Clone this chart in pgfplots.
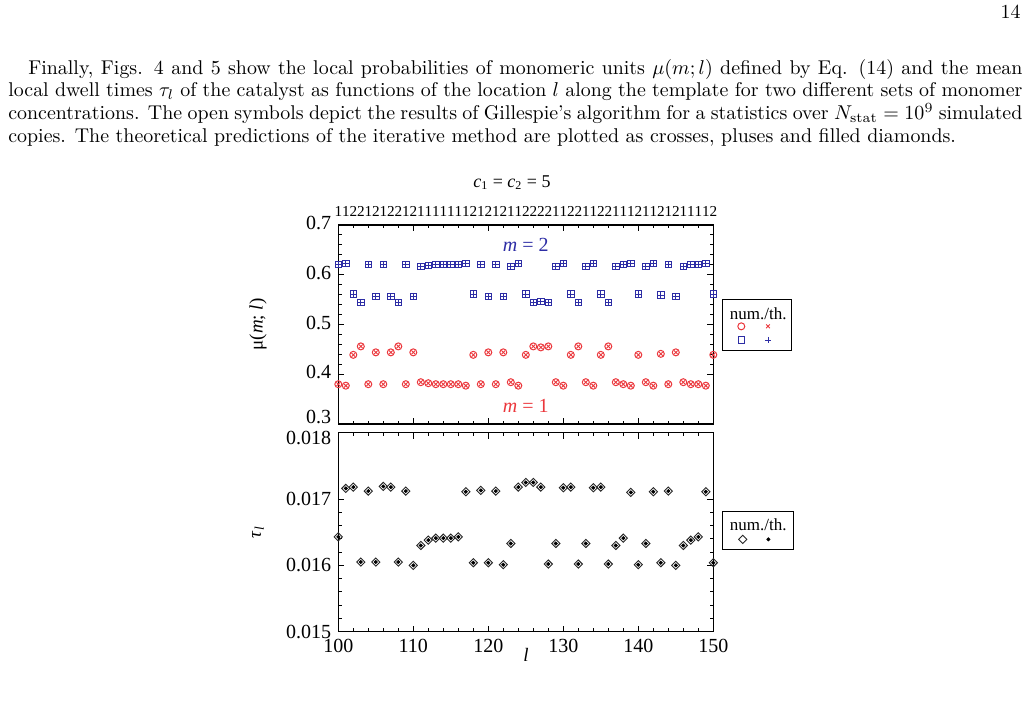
\documentclass[border=0pt]{standalone}
\usepackage{fontspec}
\usepackage{pgfplots}
\pgfplotsset{compat=1.18}
\usepackage{pgfplotstable}
\newfontfamily\figfont{Liberation Serif}
\definecolor{mred}{RGB}{235,55,60}
\definecolor{mblue}{RGB}{45,45,165}

\pgfplotstableread{
l mu1 mu2 tau
100 0.380 0.620 0.01643
101 0.377 0.623 0.01716
102 0.439 0.561 0.01718
103 0.456 0.544 0.01605
104 0.380 0.620 0.01712
105 0.444 0.556 0.01605
106 0.380 0.620 0.01719
107 0.444 0.556 0.01718
108 0.456 0.544 0.01605
109 0.380 0.620 0.01712
110 0.444 0.556 0.01600
111 0.384 0.616 0.01630
112 0.382 0.618 0.01638
113 0.380 0.620 0.01641
114 0.380 0.620 0.01641
115 0.380 0.620 0.01641
116 0.380 0.620 0.01643
117 0.377 0.623 0.01711
118 0.439 0.561 0.01604
119 0.380 0.620 0.01713
120 0.444 0.556 0.01604
121 0.380 0.620 0.01712
122 0.444 0.556 0.01601
123 0.384 0.616 0.01633
124 0.377 0.623 0.01718
125 0.439 0.561 0.01725
126 0.456 0.544 0.01725
127 0.454 0.546 0.01718
128 0.456 0.544 0.01602
129 0.384 0.616 0.01633
130 0.377 0.623 0.01717
131 0.439 0.561 0.01718
132 0.456 0.544 0.01602
133 0.384 0.616 0.01633
134 0.377 0.623 0.01717
135 0.439 0.561 0.01718
136 0.456 0.544 0.01602
137 0.384 0.616 0.01630
138 0.380 0.620 0.01641
139 0.377 0.623 0.01710
140 0.439 0.561 0.01601
141 0.384 0.616 0.01633
142 0.377 0.623 0.01711
143 0.441 0.559 0.01604
144 0.380 0.620 0.01712
145 0.444 0.556 0.01600
146 0.384 0.616 0.01630
147 0.380 0.620 0.01638
148 0.380 0.620 0.01643
149 0.377 0.623 0.01711
150 0.439 0.561 0.01604
}\data

\tikzset{
  fmt1/.style={/pgf/number format/fixed, /pgf/number format/precision=1, /pgf/number format/fixed zerofill},
  fmt3/.style={/pgf/number format/fixed, /pgf/number format/precision=3, /pgf/number format/fixed zerofill},
}
\pgfplotsset{
  mystyle/.style={
    scale only axis, width=187.5pt, height=99.5pt,
    xmin=100, xmax=150, clip=false,
    xtick={100,110,...,150}, minor x tick num=4,
    tick align=inside, major tick length=3pt, minor tick length=1.6pt,
    axis line style={line width=0.65pt},
    every tick/.append style={black, line width=0.45pt},
    tick label style={font=\figfont\fontsize{10}{11}\selectfont},
    /pgf/number format/assume math mode=true,
    label style={font=\figfont\fontsize{9.5}{11}\selectfont},
    legend image code/.code={\draw[##1] plot coordinates {(0pt,0pt)};},
  },
}

\begin{document}
\begin{tikzpicture}
\path[use as bounding box] (0pt,0pt) rectangle (514pt,350.5pt);

\node[anchor=east, inner sep=0pt, font=\fontsize{9.95}{11.3}\selectfont] at (510.5pt,344.5pt) {14};

\node[anchor=north west, text width=507pt, inner sep=0pt, align=justify,
      font=\fontsize{9.95}{11.3}\selectfont] at (4pt,321pt)
{\hspace*{10pt}Finally, Figs. 4 and 5 show the local probabilities of monomeric units $\mu(m;l)$ defined by Eq. (14) and the mean\linebreak
local dwell times $\tau_l$ of the catalyst as functions of the location $l$ along the template for two different sets of monomer\linebreak
concentrations. The open symbols depict the results of Gillespie's algorithm for a statistics over $N_{\mathrm{stat}}=10^9$ simulated\linebreak
copies. The theoretical predictions of the iterative method are plotted as crosses, pluses and filled diamonds.};

% ---------- upper panel ----------
\begin{axis}[mystyle,
  at={(169.15pt,138.5pt)}, anchor=south west,
  ymin=0.3, ymax=0.7, ytick={0.4,0.5,0.6,0.7}, minor y tick num=4,
  extra y ticks={0.3},
  extra y tick style={yticklabel style={fmt1, yshift=2.5pt}},
  xticklabels={},
  yticklabel style={fmt1, yshift=1pt},
  ylabel={μ(\textit{m}; \textit{l})},
  ylabel style={at={(axis description cs:-0.214,0.5)}, anchor=center, rotate=0},
  legend style={draw=none, fill=none, at={(axis description cs:1.1125,0.457)}, anchor=center,
    legend columns=2, nodes={inner sep=0pt},
    /tikz/every even column/.append style={column sep=9pt}, /tikz/row sep=3.5pt},
]
\addplot[only marks, mark=o, mark size=1.75pt, mred, mark options={line width=0.5pt}] table[x=l,y=mu1]{\data};
\addlegendentry{}
\addplot[only marks, mark=x, mark size=1.3pt, mred, mark options={line width=0.45pt}] table[x=l,y=mu1]{\data};
\addlegendentry{}
\addplot[only marks, mark=square, mark size=1.6pt, mblue, mark options={line width=0.5pt}] table[x=l,y=mu2]{\data};
\addlegendentry{}
\addplot[only marks, mark=+, mark size=1.6pt, mblue, mark options={line width=0.45pt}] table[x=l,y=mu2]{\data};
\addlegendentry{}
\node[mblue, font=\figfont\fontsize{10}{11}\selectfont] at (axis cs:125,0.66) {\textit{m} = 2};
\node[mred, font=\figfont\fontsize{10}{11}\selectfont] at (axis cs:125,0.336) {\textit{m} = 1};
\node[font=\figfont\fontsize{9}{11}\selectfont] at (axis description cs:0.463,1.211)
  {\textit{c}\textsubscript{1} = \textit{c}\textsubscript{2} = 5};
\end{axis}

% sequence along the template (top tick labels)
\begin{axis}[
  at={(169.15pt,138.5pt)}, anchor=south west,
  scale only axis, width=187.5pt, height=99.5pt,
  xmin=100, xmax=150, ymin=0, ymax=1,
  hide y axis, axis x line*=top, x axis line style={draw=none},
  xtick={100,...,150}, major tick length=0pt, xtick style={draw=none},
  xticklabel pos=upper,
  xticklabels={1,1,2,2,1,2,1,2,2,1,2,1,1,1,1,1,1,1,2,1,2,1,2,1,1,2,2,2,2,1,1,2,2,1,1,2,2,1,1,1,2,1,1,2,1,2,1,1,1,1,2},
  xticklabel style={font=\figfont\fontsize{7.6}{8}\selectfont, inner sep=0pt, yshift=4pt},
]
\end{axis}

% legend frame + title (upper)
\draw[line width=0.5pt] (361.35pt,175.15pt) rectangle (395.85pt,200.5pt);
\node[font=\figfont\fontsize{8.5}{10}\selectfont, inner sep=0pt] at (379.15pt,193.85pt) {num./th.};

% ---------- lower panel ----------
\begin{axis}[mystyle,
  at={(169.15pt,34.65pt)}, anchor=south west,
  ymin=0.015, ymax=0.018, ytick={0.015,0.016,0.017}, minor y tick num=4,
  extra y ticks={0.018},
  extra y tick style={yticklabel style={fmt3, yshift=-2.5pt}},
  scaled y ticks=false,
  yticklabel style={fmt3},
  xlabel={\textit{l}},
  xlabel style={at={(axis description cs:0.5005,-0.117)}, anchor=center},
  ylabel={\textit{τ}\textsubscript{\textit{l}}},
  ylabel style={at={(axis description cs:-0.214,0.5)}, anchor=center, rotate=0},
  legend style={draw=none, fill=none, at={(axis description cs:1.112,0.464)}, anchor=center,
    legend columns=2, nodes={inner sep=0pt},
    /tikz/every even column/.append style={column sep=9pt}},
]
\addplot[only marks, mark=square, mark size=1.45pt, black!85, mark options={rotate=45, line width=0.45pt}] table[x=l,y=tau]{\data};
\addlegendentry{}
\addplot[only marks, mark=square*, mark size=0.55pt, black, mark options={rotate=45}] table[x=l,y=tau]{\data};
\addlegendentry{}
\end{axis}

\draw[line width=0.5pt] (361.35pt,75.5pt) rectangle (396.5pt,94.65pt);
\node[font=\figfont\fontsize{8.5}{10}\selectfont, inner sep=0pt] at (379.15pt,88pt) {num./th.};
\end{tikzpicture}
\end{document}
